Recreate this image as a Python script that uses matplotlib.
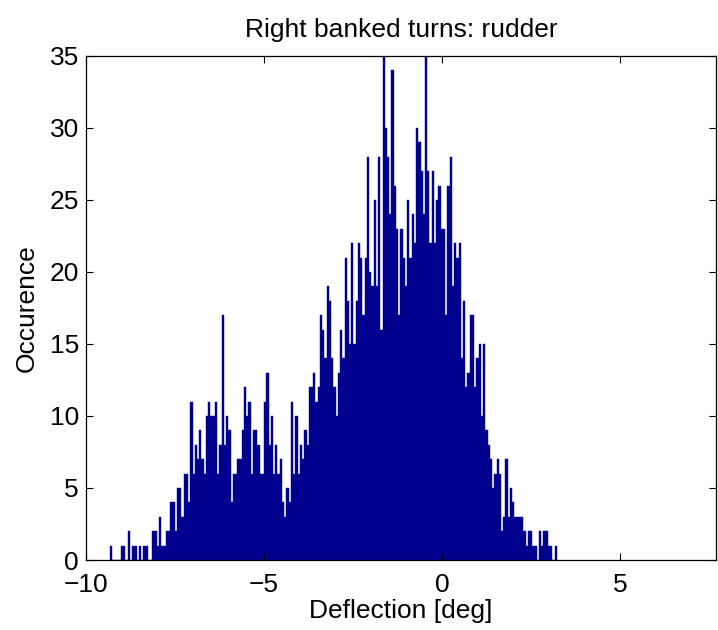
import numpy as np
import matplotlib
matplotlib.use("Agg")
import matplotlib.pyplot as plt

plt.rcParams['font.family'] = ['Liberation Sans', 'DejaVu Sans']

# histogram: 200 bins between the data min and max
x_min = -9.33
x_max = 3.23
counts = [
    1, 0, 0, 0, 0, 1, 1, 0, 2, 0, 1, 1, 0, 1, 0, 1, 1, 0, 0, 2,
    2, 1, 3, 1, 1, 2, 2, 4, 4, 2, 5, 5, 3, 6, 6, 4, 11, 6, 8, 7,
    9, 7, 6, 10, 11, 10, 10, 11, 6, 8, 17, 8, 10, 9, 4, 6, 6, 7, 7, 9,
    12, 10, 11, 6, 9, 9, 8, 6, 6, 11, 13, 8, 10, 6, 8, 6, 7, 4, 3, 5,
    4, 11, 6, 10, 6, 8, 7, 9, 8, 12, 12, 13, 11, 12, 17, 16, 14, 19, 18, 14,
    12, 10, 13, 16, 14, 21, 18, 15, 22, 15, 18, 22, 21, 17, 21, 28, 20, 19, 25, 19,
    28, 16, 35, 30, 28, 24, 34, 26, 23, 17, 23, 21, 19, 25, 21, 24, 22, 30, 29, 27,
    24, 35, 27, 22, 27, 22, 25, 26, 23, 23, 17, 26, 28, 19, 22, 21, 22, 14, 18, 12,
    13, 17, 17, 12, 14, 15, 10, 15, 9, 8, 7, 5, 6, 7, 6, 2, 3, 7, 3, 5,
    4, 3, 3, 3, 3, 2, 1, 2, 2, 1, 1, 0, 2, 1, 2, 2, 1, 1, 0, 1,
]
xticks = [-10, -5, 0, 5]
yticks = [0, 5, 10, 15, 20, 25, 30, 35]

edges = np.linspace(x_min, x_max, len(counts) + 1)

fig = plt.figure(figsize=(7.18, 6.30), dpi=100)
ax = fig.add_axes([86/718, 1 - 560/630, (716-86)/718, (560-56)/630])

ax.bar(edges[:-1], counts, width=np.diff(edges), align='edge',
       color='#00008f', edgecolor='#00008f', linewidth=0.3)

ax.set_xlim(-10, 7.7)
ax.set_ylim(0, 35)
ax.set_xticks(xticks)
ax.set_yticks(yticks)
ax.tick_params(direction='in', top=True, right=True, labelsize=19, length=5, width=0.8)
ax.tick_params(axis='x', pad=9)
ax.tick_params(axis='y', pad=5)
for s in ax.spines.values():
    s.set_linewidth(0.9)

ax.set_title('Right banked turns: rudder', fontsize=19, pad=14)
ax.set_xlabel('Deflection [deg]', fontsize=19, labelpad=2)
ax.set_ylabel('Occurence', fontsize=19, labelpad=8)

fig.savefig('out.png', dpi=100)
